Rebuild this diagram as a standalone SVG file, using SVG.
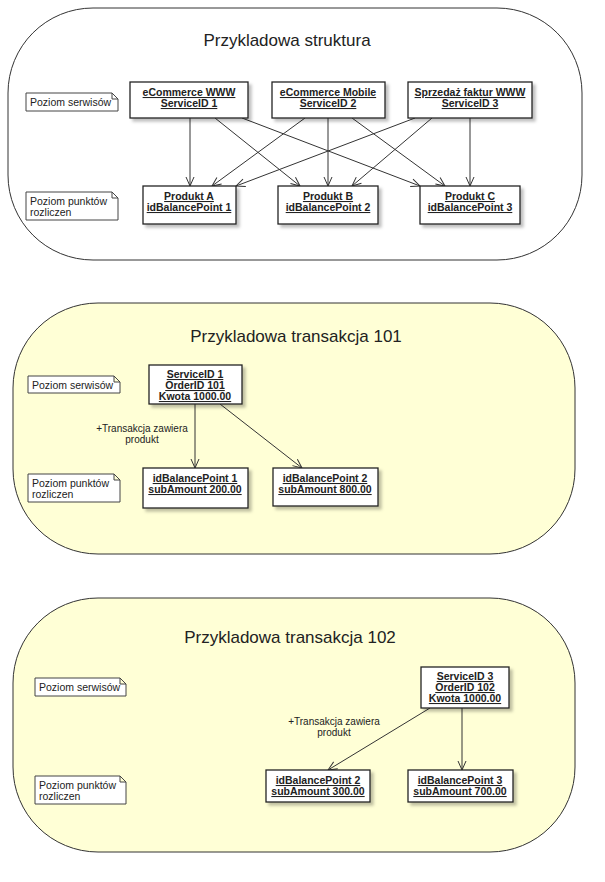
<svg xmlns="http://www.w3.org/2000/svg" width="605" height="882" viewBox="0 0 605 882">
<defs>
<marker id="ar" markerWidth="12" markerHeight="12" refX="10" refY="5" orient="auto" markerUnits="userSpaceOnUse"><path d="M1,1 L10,5 L1,9" fill="none" stroke="#333" stroke-width="1"/></marker>
<filter id="sh" x="-10%" y="-10%" width="130%" height="140%"><feDropShadow dx="3" dy="3" stdDeviation="1.5" flood-color="#000" flood-opacity="0.25"/></filter>
</defs>
<style>
text{font-family:"Liberation Sans",Arial,sans-serif;fill:#222}
.pn{stroke:#333;stroke-width:1}
.t{font-size:17px;text-anchor:middle}
.b{fill:#fff;stroke:#222;stroke-width:1.3;filter:url(#sh)}
.bt{font-size:10.5px;font-weight:bold;text-anchor:middle;text-decoration:underline}
.n{fill:#fff;stroke:#444;stroke-width:1}
.nt{font-size:10.5px}
.c{stroke:#333;stroke-width:1;fill:none;marker-end:url(#ar)}
.l{font-size:10px;text-anchor:middle}
</style>
<rect class="pn" x="8" y="8" width="574" height="252" rx="85" fill="#fff"/>
<rect class="pn" x="13" y="303" width="562" height="251" rx="85" fill="#ffffd6"/>
<rect class="pn" x="13" y="598" width="562" height="254" rx="85" fill="#ffffd6"/>
<text class="t" x="287" y="46">Przykladowa struktura</text>
<text class="t" x="296" y="342">Przykladowa transakcja 101</text>
<text class="t" x="290" y="643">Przykladowa transakcja 102</text>

<g id="notes">
<path class="n" d="M26,93 H112 L118,99 V111 H26 Z M112,93 V99 H118"/><text class="nt" x="30" y="106">Poziom serwisów</text>
<path class="n" d="M26,192 H112 L118,198 V220 H26 Z M112,192 V198 H118"/><text class="nt" x="30" y="205">Poziom punktów</text><text class="nt" x="30" y="216">rozliczen</text>
<path class="n" d="M28,376 H114 L120,382 V393 H28 Z M114,376 V382 H120"/><text class="nt" x="32" y="389">Poziom serwisów</text>
<path class="n" d="M28,474 H114 L120,480 V502 H28 Z M114,474 V480 H120"/><text class="nt" x="32" y="487">Poziom punktów</text><text class="nt" x="32" y="498">rozliczen</text>
<path class="n" d="M35,678 H120 L126,684 V696 H35 Z M120,678 V684 H126"/><text class="nt" x="39" y="691">Poziom serwisów</text>
<path class="n" d="M35,776 H120 L126,782 V804 H35 Z M120,776 V782 H126"/><text class="nt" x="39" y="789">Poziom punktów</text><text class="nt" x="39" y="800">rozliczen</text>
</g>

<g id="connectors">
<line class="c" x1="190" y1="118" x2="190" y2="186"/>
<line class="c" x1="215" y1="118" x2="300" y2="186"/>
<line class="c" x1="242" y1="118" x2="420" y2="186"/>
<line class="c" x1="305" y1="118" x2="212" y2="186"/>
<line class="c" x1="328" y1="118" x2="328" y2="186"/>
<line class="c" x1="352" y1="118" x2="445" y2="186"/>
<line class="c" x1="415" y1="118" x2="236" y2="186"/>
<line class="c" x1="432" y1="118" x2="352" y2="186"/>
<line class="c" x1="470" y1="118" x2="470" y2="186"/>
<line class="c" x1="195" y1="404" x2="195" y2="468"/>
<line class="c" x1="220" y1="404" x2="302" y2="468"/>
<line class="c" x1="430" y1="708" x2="328" y2="770"/>
<line class="c" x1="462" y1="708" x2="462" y2="770"/>
<text class="l" x="142" y="432">+Transakcja zawiera</text><text class="l" x="142" y="443">produkt</text>
<text class="l" x="334" y="725">+Transakcja zawiera</text><text class="l" x="334" y="736">produkt</text>
</g>

<g id="s1"><rect class="b" x="130" y="82" width="118" height="36"/><text class="bt" x="189" y="96">eCommerce WWW</text><text class="bt" x="189" y="107">ServiceID 1</text></g>
<g id="s2"><rect class="b" x="272" y="82" width="113" height="36"/><text class="bt" x="328" y="96">eCommerce Mobile</text><text class="bt" x="328" y="107">ServiceID 2</text></g>
<g id="s3"><rect class="b" x="408" y="82" width="124" height="36"/><text class="bt" x="470" y="96">Sprzedaż faktur WWW</text><text class="bt" x="470" y="107">ServiceID 3</text></g>
<g id="pA"><rect class="b" x="143" y="186" width="93" height="38"/><text class="bt" x="189" y="200">Produkt A</text><text class="bt" x="189" y="211">idBalancePoint 1</text></g>
<g id="pB"><rect class="b" x="278" y="186" width="100" height="38"/><text class="bt" x="328" y="200">Produkt B</text><text class="bt" x="328" y="211">idBalancePoint 2</text></g>
<g id="pC"><rect class="b" x="420" y="186" width="100" height="38"/><text class="bt" x="470" y="200">Produkt C</text><text class="bt" x="470" y="211">idBalancePoint 3</text></g>

<g id="t1s"><rect class="b" x="149" y="365" width="93" height="39"/><text class="bt" x="195" y="378">ServiceID 1</text><text class="bt" x="195" y="389">OrderID 101</text><text class="bt" x="195" y="400">Kwota 1000.00</text></g>
<g id="t1a"><rect class="b" x="143" y="468" width="105" height="40"/><text class="bt" x="195" y="482">idBalancePoint 1</text><text class="bt" x="195" y="493">subAmount 200.00</text></g>
<g id="t1b"><rect class="b" x="273" y="468" width="105" height="38"/><text class="bt" x="325" y="482">idBalancePoint 2</text><text class="bt" x="325" y="493">subAmount 800.00</text></g>

<g id="t2s"><rect class="b" x="421" y="667" width="88" height="41"/><text class="bt" x="465" y="680">ServiceID 3</text><text class="bt" x="465" y="691">OrderID 102</text><text class="bt" x="465" y="702">Kwota 1000.00</text></g>
<g id="t2a"><rect class="b" x="266" y="770" width="104" height="32"/><text class="bt" x="318" y="784">idBalancePoint 2</text><text class="bt" x="318" y="795">subAmount 300.00</text></g>
<g id="t2b"><rect class="b" x="408" y="770" width="105" height="32"/><text class="bt" x="460" y="784">idBalancePoint 3</text><text class="bt" x="460" y="795">subAmount 700.00</text></g>
</svg>
